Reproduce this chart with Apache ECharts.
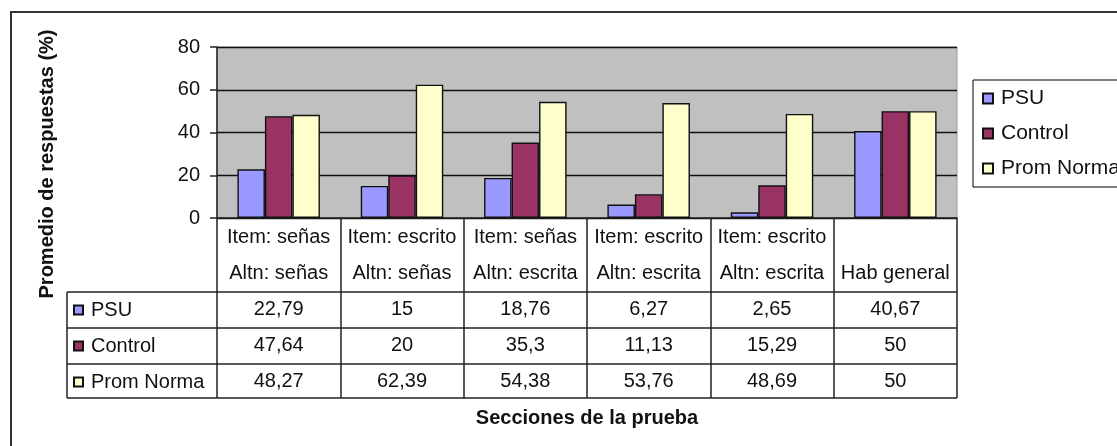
<!DOCTYPE html>
<html>
<head>
<meta charset="utf-8">
<script src="https://cdn.jsdelivr.net/npm/echarts@6/dist/echarts.min.js"></script>
<style>
  html, body { margin: 0; padding: 0; background: #fff; }
  #chart { width: 1117px; height: 446px; }
</style>
</head>
<body>
<div id="chart"></div>
<script>
// Data
const categories = [
    'Item: señas\nAltn: señas',
    'Item: escrito\nAltn: señas',
    'Item: señas\nAltn: escrita',
    'Item: escrito\nAltn: escrita',
    'Item: escrito\nAltn: escrita',
    '\nHab general'
];
const seriesNames = ['PSU', 'Control', 'Prom Norma'];
const psu = [22.79, 15, 18.76, 6.27, 2.65, 40.67];
const control = [47.64, 20, 35.3, 11.13, 15.29, 50];
const promNorma = [48.27, 62.39, 54.38, 53.76, 48.69, 50];
const colors = ['#9999FF', '#993366', '#FFFFCC'];

const fontFamily = 'Liberation Sans, Arial, sans-serif';
const textColor = '#111';
const lineColor = '#222';

// layout
const gridLeft = 217, gridTop = 47, gridRight = 957, gridBottom = 218;
const tableLeft = 67;
const rowLines = [292, 328, 364, 398];

const fmt = v => String(v).replace('.', ',');

const chartDom = document.getElementById('chart');
const chart = echarts.init(chartDom);

const tableLines = rowLines.map(y => ({
    type: 'line',
    shape: { x1: tableLeft, y1: y, x2: gridRight, y2: y },
    style: { stroke: lineColor, lineWidth: 1.5 }
}));
tableLines.push({
    type: 'line',
    shape: { x1: tableLeft, y1: rowLines[0], x2: tableLeft, y2: rowLines[rowLines.length - 1] },
    style: { stroke: lineColor, lineWidth: 1.5 }
});

const option = {
    animation: false,
    textStyle: { fontFamily: fontFamily },
    grid: {
        left: gridLeft,
        top: gridTop,
        right: 1117 - gridRight,
        bottom: 446 - gridBottom,
        show: true,
        backgroundColor: '#C0C0C0',
        borderColor: '#999',
        borderWidth: 1
    },
    legend: [
        {
            data: seriesNames,
            orient: 'vertical',
            left: 973,
            top: 80,
            padding: [8, 12, 8, 9],
            itemGap: 14,
            itemWidth: 10,
            itemHeight: 10,
            icon: 'rect',
            selectedMode: false,
            borderColor: '#000',
            borderWidth: 1,
            textStyle: { fontSize: 21, lineHeight: 20, color: textColor, fontFamily: fontFamily, padding: [0, 0, 0, 3] }
        },
        {
            data: seriesNames,
            orient: 'vertical',
            left: tableLeft + 1,
            top: rowLines[0],
            padding: [8, 0, 0, 5],
            itemGap: 16,
            itemWidth: 9,
            itemHeight: 9,
            icon: 'rect',
            selectedMode: false,
            textStyle: { fontSize: 20, lineHeight: 20, color: textColor, fontFamily: fontFamily, padding: [0, 0, 0, 3] }
        }
    ],
    xAxis: {
        type: 'category',
        data: categories,
        axisLine: { lineStyle: { color: lineColor, width: 1.5 } },
        axisTick: {
            show: true,
            interval: 0,
            length: rowLines[rowLines.length - 1] - gridBottom,
            lineStyle: { color: lineColor, width: 1.5 }
        },
        axisLabel: {
            interval: 0,
            margin: 1,
            fontSize: 20,
            lineHeight: 36,
            color: textColor,
            fontFamily: fontFamily,
            formatter: (value, index) => [
                categories[index],
                fmt(psu[index]),
                fmt(control[index]),
                fmt(promNorma[index])
            ].join('\n')
        }
    },
    yAxis: {
        type: 'value',
        min: 0,
        max: 80,
        interval: 20,
        axisLine: { show: true, lineStyle: { color: lineColor, width: 1.5 } },
        axisTick: { show: true, length: 7, lineStyle: { color: lineColor, width: 1.5 } },
        axisLabel: { fontSize: 20, color: textColor, margin: 17, fontFamily: fontFamily },
        splitLine: { lineStyle: { color: '#111', width: 1.3 } }
    },
    series: [
        { name: seriesNames[0], data: psu },
        { name: seriesNames[1], data: control },
        { name: seriesNames[2], data: promNorma }
    ].map((s, i) => ({
        name: s.name,
        type: 'bar',
        data: s.data,
        barWidth: 27.5,
        barGap: '0%',
        itemStyle: { color: colors[i], borderColor: '#111', borderWidth: 1.4 }
    })),
    graphic: [
        {
            type: 'rect',
            shape: { x: 11, y: 12, width: 1200, height: 600 },
            style: { fill: null, stroke: '#333', lineWidth: 2 },
            silent: true
        },
        {
            type: 'text',
            x: 47,
            y: 164,
            rotation: Math.PI / 2,
            style: {
                text: 'Promedio de respuestas (%)',
                font: 'bold 20px ' + fontFamily,
                fill: textColor,
                align: 'center',
                verticalAlign: 'middle'
            }
        },
        {
            type: 'text',
            x: 587,
            y: 418,
            style: {
                text: 'Secciones de la prueba',
                font: 'bold 20px ' + fontFamily,
                fill: textColor,
                align: 'center',
                verticalAlign: 'middle'
            }
        }
    ].concat(tableLines)
};

chart.setOption(option);

window.addEventListener('resize', () => {
    chart.resize();
});
</script>
</body>
</html>
